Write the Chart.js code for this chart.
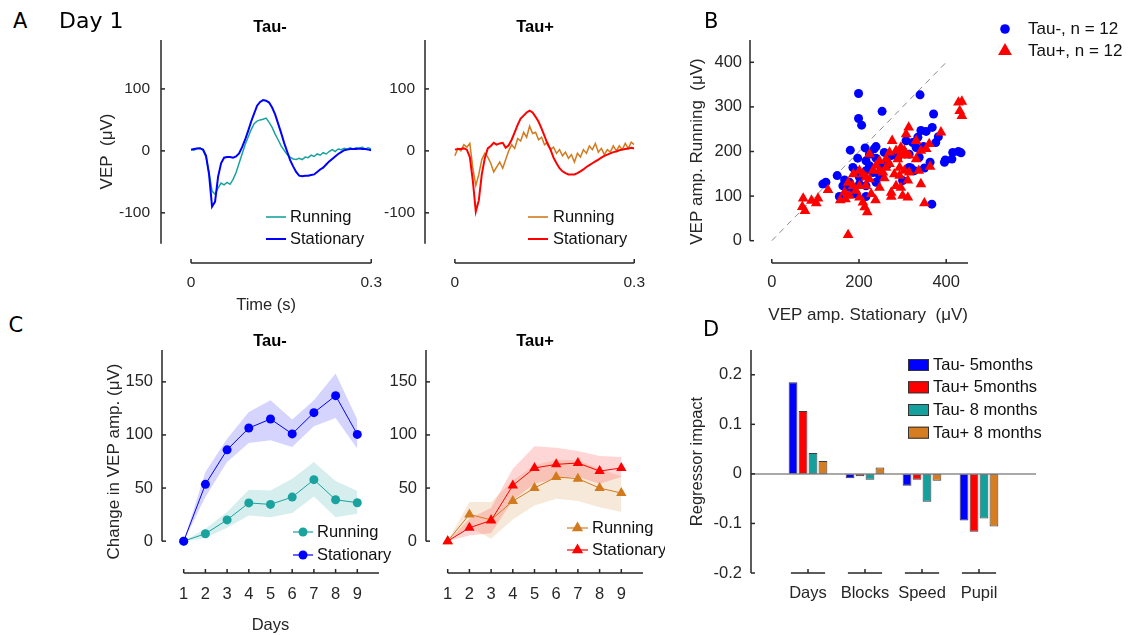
<!DOCTYPE html>
<html>
<head>
<meta charset="utf-8">
<script src="https://cdn.jsdelivr.net/npm/chart.js@4.4.1/dist/chart.umd.min.js"></script>
<style>
  body { margin: 0; background: #fff; }
  #fig { position: relative; width: 1128px; height: 635px; overflow: hidden; }
  #fig canvas { position: absolute; }
  .lbl { position: absolute; font: 21px/21px 'DejaVu Sans', sans-serif; color: #000; white-space: nowrap; }
</style>
</head>
<body>
<div id="fig">
  <canvas id="a1"></canvas>
  <canvas id="a2"></canvas>
  <canvas id="b"></canvas>
  <canvas id="c1"></canvas>
  <canvas id="c2"></canvas>
  <canvas id="d"></canvas>
  <div class="lbl" style="left:13px;top:10.6px">A</div>
  <div class="lbl" style="left:59px;top:10px;font-size:22px">Day 1</div>
  <div class="lbl" style="left:704px;top:10.6px">B</div>
  <div class="lbl" style="left:8.5px;top:314.5px">C</div>
  <div class="lbl" style="left:703px;top:318.9px">D</div>
</div>
<script>
const FONT = "'Liberation Sans', Arial, sans-serif";
Chart.defaults.font.family = FONT;

// ---- A: day-1 VEP traces (uV), sampled every 5 ms ----
const vepTimeMs = [0,5,10,15,20,25,30,35,40,45,50,55,60,65,70,75,80,85,90,95,100,105,110,115,120,125,130,135,140,145,150,
  155,160,165,170,175,180,185,190,195,200,205,210,215,220,225,230,235,240,245,250,255,260,265,270,275,280,285,290,295,300];
const tauNegRunningVep = [2,1,4,5,1,-10,-35,-65,-70,-60,-52,-55,-51,-54,-46,-35,-20,-5,10,22,34,44,48,50,51,53,46,38,27,18,8,
  1,-6,-10,-13,-14,-12,-14,-10,-11,-7,-9,-5,-7,-3,-5,-1,2,-1,3,2,4,3,5,3,5,4,6,3,5,3];
const tauNegStationaryVep = [2,3,4,4,2,-8,-38,-90,-82,-42,-20,-11,-10,-10,-11,-9,-4,6,18,32,47,60,73,79,82,81,78,70,59,44,29,
  13,-1,-15,-25,-34,-40,-41,-40,-40,-39,-38,-34,-30,-27,-22,-17,-13,-9,-5,-2,1,2,3,3,3,4,3,3,2,1];
const tauPosRunningVep = [-8,4,0,10,6,12,-28,-56,-38,-14,-4,-10,-20,-34,-26,-18,-28,-14,0,10,4,20,16,30,22,40,28,30,18,22,10,
  14,2,6,-4,2,-8,-2,-12,-6,-18,-4,-10,2,-4,8,2,12,-2,4,-6,2,-2,8,0,8,2,12,4,14,10];
const tauPosStationaryVep = [2,3,3,4,2,-10,-48,-98,-80,-38,-12,4,8,13,10,12,13,5,9,18,30,42,52,57,62,65,62,55,47,36,24,
  11,2,-11,-20,-28,-33,-36,-38,-38,-38,-36,-33,-30,-26,-23,-20,-17,-14,-11,-8,-6,-4,-2,-1,1,2,3,4,5,4];
const conditions = ['Running', 'Stationary'];

// ---- B: VEP amplitude per session (uV) ----
const tauNegStatAmp = [199,340,253,199,206,371,368,342,354,382,335,308,323,239,235,214,180,348,415,428,434,398,396,413,363,
  350,319,327,197,216,186,216,239,258,274,224,192,150,124,117,167,163,178,201,216,239,186,193,216,155,367,289,300,338,315,
  331,232,247,300,315,201,175,209,251,266,376,224];
const tauNegRunAmp = [330,327,290,274,259,284,254,247,245,233,232,224,220,211,206,208,203,211,198,200,197,181,176,183,176,
  163,163,157,185,179,164,157,185,198,191,168,157,146,131,127,136,123,131,127,123,131,116,105,99,99,82,187,202,187,194,
  209,153,146,135,164,142,120,149,164,172,220,194];
const tauPosStatAmp = [428,436,431,436,388,314,308,361,342,276,296,304,285,270,224,262,315,331,289,296,308,270,293,304,239,
  232,247,262,281,293,315,337,363,312,342,187,209,216,224,258,175,201,216,247,285,296,167,193,228,274,300,312,157,169,201,
  209,238,274,213,219,129,72,70,76,91,102,106,350,175,255,247,331,354,201,186,178];
const tauPosRunAmp = [310,312,291,280,243,254,239,217,202,224,209,202,202,198,194,183,191,183,183,191,194,172,164,157,168,
  157,157,164,149,146,153,157,166,135,127,149,149,142,138,140,130,123,123,119,123,119,109,112,105,108,101,97,91,93,97,
  86,91,99,75,64,114,95,76,67,90,84,95,84,13,153,179,224,206,157,123,101];
const diagonalRef = [0, 400];
const groupsB = ['Tau-, n = 12', 'Tau+, n = 12'];

// ---- C: change in VEP amplitude over days (uV): mean and shaded error ----
const days = [1, 2, 3, 4, 5, 6, 7, 8, 9];
const tauNegStatMean = [0, 53.5, 86, 106.5, 115, 101, 121, 137, 100.5];
const tauNegStatHi   = [0, 65, 96.5, 121.7, 132.7, 114.5, 132.7, 157.9, 114.5];
const tauNegStatLo   = [0, 41.5, 74.5, 92.5, 95, 88.7, 108.2, 116, 87.1];
const tauNegRunMean  = [0, 7, 20, 36, 34.6, 41.5, 57.9, 39, 36.2];
const tauNegRunHi    = [0, 11.6, 27.4, 48.4, 47.8, 58.8, 74.5, 56.6, 47.2];
const tauNegRunLo    = [0, 3, 12.6, 24.2, 22.6, 26.4, 42.1, 22.6, 25.8];
const tauPosStatMean = [0, 12.6, 19.5, 52.5, 68.9, 72.3, 73.6, 66, 68.9];
const tauPosStatHi   = [0, 21, 31.4, 68.2, 89.3, 88, 84.9, 80.2, 79.2];
const tauPosStatLo   = [0, 5.3, 7.5, 38.4, 54, 58.8, 60.4, 54, 60.4];
const tauPosRunMean  = [0, 25.2, 20, 37.7, 50, 60.4, 58.8, 50, 45.3];
const tauPosRunHi    = [0, 36.8, 36.8, 57.2, 71.4, 76.7, 76.1, 68.2, 61];
const tauPosRunLo    = [0, 13.2, 2.2, 20.4, 33.6, 40, 37.7, 32, 27.4];

// ---- D: regressor impact ----
const regressors = ['Days', 'Blocks', 'Speed', 'Pupil'];
const groupsD = ['Tau- 5months', 'Tau+ 5months', 'Tau- 8 months', 'Tau+ 8 months'];
const impactTauNeg5 = [0.185, -0.009, -0.024, -0.094];
const impactTauPos5 = [0.127, -0.005, -0.012, -0.117];
const impactTauNeg8 = [0.042, -0.012, -0.056, -0.090];
const impactTauPos8 = [0.026, 0.013, -0.014, -0.106];

// colours
const TEAL = '#1aa39e', BLUE = '#0000ff', ORANGE = '#d27a1e', RED = '#ff0000';
const tauNegColors = [TEAL, BLUE], tauPosColors = [ORANGE, RED];
const groupColorsD = [BLUE, RED, '#14a09c', '#d67d22'];

// page layout: box = canvas [left, top, w, h], area = plot box [l, t, r, b] (page px)
const panels = {
  a1: { box: [90, 15, 302, 305], area: [161, 40, 379, 263], xLine: [0, 0.3], yLine: [-150, 179],
        title: { text: 'Tau-', x: 270, y: 27 },
        legend: { kind: 'line', x: 266, len: 20, textX: 290, rows: [217, 239],
                  items: conditions.map((c, i) => ({ label: c, color: tauNegColors[i], w: i ? 2 : 1.6 })) } },
  a2: { box: [375, 15, 280, 305], area: [425, 40, 643, 263], xLine: [0, 0.3], yLine: [-150, 179],
        title: { text: 'Tau+', x: 535, y: 27 },
        legend: { kind: 'line', x: 528, len: 20, textX: 553, rows: [217, 239],
                  items: conditions.map((c, i) => ({ label: c, color: tauPosColors[i], w: i ? 2 : 1.6 })) } },
  b:  { box: [680, 10, 448, 320], area: [750, 40, 968, 263], xLine: [0, 450], yLine: [0, 450],
        legend: { kind: 'marker', x: 1005, textX: 1028, rows: [29, 51], size: 17,
                  items: [{ label: groupsB[0], color: BLUE, style: 'circle', r: 4.8 },
                          { label: groupsB[1], color: RED, style: 'triangle', r: 8 }] } },
  c1: { box: [90, 325, 305, 310], area: [162, 350, 379, 573], xLine: [1, 10], yLine: [0, 180],
        title: { text: 'Tau-', x: 270, y: 341 },
        legend: { kind: 'markerLine', x: 293, len: 20, textX: 317, rows: [532, 555],
                  items: conditions.map((c, i) => ({ label: c, color: tauNegColors[i], style: 'circle', r: 4.5 })) } },
  c2: { box: [375, 325, 290, 310], area: [426, 350, 643, 573], xLine: [1, 10], yLine: [0, 180],
        title: { text: 'Tau+', x: 535, y: 341 },
        legend: { kind: 'markerLine', x: 567, len: 21, textX: 592, rows: [528, 550],
                  items: conditions.map((c, i) => ({ label: c, color: tauPosColors[i], style: 'triangle', r: 6.5 })) } },
  d:  { box: [680, 325, 448, 310], area: [751, 350, 1036, 573], yLine: [-0.2, 0.25], xSeg: 0.3, zero: [0, 5],
        legend: { kind: 'box', x: 908, bw: 21, bh: 12, textX: 933, rows: [365, 387.3, 410, 432.7],
                  items: groupsD.map((g, i) => ({ label: g, color: groupColorsD[i] })) } }
};

function marker(ctx, style, x, y, r) {
  ctx.beginPath();
  if (style === 'triangle') {
    ctx.moveTo(x, y - r);
    ctx.lineTo(x + r * 0.866, y + r * 0.5);
    ctx.lineTo(x - r * 0.866, y + r * 0.5);
    ctx.closePath();
  } else {
    ctx.arc(x, y, r, 0, Math.PI * 2);
  }
  ctx.fill();
}

// MATLAB-like detached axes, titles and legends
const matlabAxes = {
  id: 'matlabAxes',
  afterDraw(chart) {
    const p = panels[chart.canvas.id];
    const { ctx, chartArea: a } = chart, sx = chart.scales.x, sy = chart.scales.y;
    const ox = p.box[0], oy = p.box[1];
    const seg = (x1, y1, x2, y2) => { ctx.beginPath(); ctx.moveTo(x1, y1); ctx.lineTo(x2, y2); ctx.stroke(); };
    ctx.save();
    if (p.zero) {
      ctx.strokeStyle = '#8c8c8c'; ctx.lineWidth = 1.5;
      const y0 = sy.getPixelForValue(0);
      seg(sx.getPixelForValue(p.zero[0]), y0, sx.getPixelForValue(p.zero[1]), y0);
    }
    ctx.strokeStyle = '#262626'; ctx.lineWidth = 1.5;
    seg(a.left, sy.getPixelForValue(p.yLine[0]), a.left, sy.getPixelForValue(p.yLine[1]));
    sy.ticks.forEach(t => { const y = sy.getPixelForValue(t.value); seg(a.left, y, a.left + 4, y); });
    if (p.xLine) seg(sx.getPixelForValue(p.xLine[0]), a.bottom, sx.getPixelForValue(p.xLine[1]), a.bottom);
    sx.ticks.forEach(t => {
      const x = sx.getPixelForValue(t.value);
      if (p.xSeg) seg(sx.getPixelForValue(t.value - p.xSeg), a.bottom, sx.getPixelForValue(t.value + p.xSeg), a.bottom);
      seg(x, a.bottom, x, a.bottom - 4);
    });

    if (p.title) {
      ctx.fillStyle = '#000'; ctx.font = `bold 16.5px ${FONT}`;
      ctx.textAlign = 'center'; ctx.textBaseline = 'middle';
      ctx.fillText(p.title.text, p.title.x - ox, p.title.y - oy);
    }

    const L = p.legend;
    if (L) {
      L.items.forEach((it, i) => {
        const y = L.rows[i] - oy, x = L.x - ox;
        ctx.strokeStyle = it.color; ctx.fillStyle = it.color;
        if (L.kind === 'line' || L.kind === 'markerLine') {
          ctx.lineWidth = it.w || 1.2;
          seg(x, y, x + L.len, y);
        }
        if (L.kind === 'markerLine') marker(ctx, it.style, x + L.len / 2, y, it.r);
        if (L.kind === 'marker') marker(ctx, it.style, x, y, it.r);
        if (L.kind === 'box') {
          ctx.fillRect(x, y - L.bh / 2, L.bw, L.bh);
          ctx.strokeStyle = '#333'; ctx.lineWidth = 1;
          ctx.strokeRect(x + 0.5, y - L.bh / 2 + 0.5, L.bw - 1, L.bh - 1);
        }
        ctx.fillStyle = '#111'; ctx.font = `${L.size || 16.5}px ${FONT}`;
        ctx.textAlign = 'left'; ctx.textBaseline = 'middle';
        ctx.fillText(it.label, L.textX - ox, y + 0.5);
      });
    }
    ctx.restore();
  }
};

function axis(p, side, o) {
  const horiz = side === 'x';
  return {
    type: 'linear', position: horiz ? 'bottom' : 'left',
    min: o.min, max: o.max, offset: false,
    grid: { display: false, drawTicks: false }, border: { display: false },
    afterFit: s => { if (horiz) s.height = p.xHeight; else s.width = p.yWidth; },
    afterBuildTicks: s => { s.ticks = o.ticks.map(v => ({ value: v })); },
    ticks: { padding: o.pad, font: { size: o.fs || 15.5 }, color: '#262626', autoSkip: false, maxRotation: 0,
             callback: o.fmt || (v => String(v)) },
    title: o.title ? { display: true, text: o.title, font: { size: o.tfs || 16 }, color: '#262626', align: o.align || 'center',
                       padding: horiz ? { top: 0, bottom: o.tpad } : { top: o.tpad, bottom: 0 } }
                   : { display: false }
  };
}

function makeChart(id, type, data, sc) {
  const p = panels[id];
  const [bl, bt, bw, bh] = p.box, [al, at, ar, ab] = p.area;
  const cv = document.getElementById(id);
  cv.width = bw; cv.height = bh;
  cv.style.left = bl + 'px'; cv.style.top = bt + 'px';
  p.yWidth = al - bl; p.xHeight = bt + bh - ab;
  return new Chart(cv, {
    type, data,
    options: {
      responsive: false, animation: false, events: [], devicePixelRatio: 1,
      layout: { autoPadding: false, padding: { left: 0, top: at - bt, right: bl + bw - ar, bottom: 0 } },
      plugins: { legend: { display: false }, tooltip: { enabled: false } },
      scales: { x: axis(p, 'x', sc.x), y: axis(p, 'y', sc.y) }
    },
    plugins: [matlabAxes]
  });
}

const trace = (label, vals, color, w, order) => ({
  label, order, borderColor: color, borderWidth: w, pointRadius: 0, tension: 0, fill: false,
  data: vepTimeMs.map((t, i) => ({ x: t / 1000, y: vals[i] }))
});
const band = (vals, bg) => ({
  order: 5, data: days.map((d, i) => ({ x: d, y: vals[i] })), borderWidth: 0, pointRadius: 0,
  tension: 0, fill: bg ? '-1' : false, backgroundColor: bg || 'transparent'
});
const mean = (label, vals, color, style, r, order) => ({
  label, order, data: days.map((d, i) => ({ x: d, y: vals[i] })), borderColor: color, borderWidth: 1,
  pointStyle: style, pointRadius: r, pointBackgroundColor: color, pointBorderColor: color, pointBorderWidth: 0,
  tension: 0, fill: false
});

// A
makeChart('a1', 'line', { datasets: [
  trace(conditions[0], tauNegRunningVep, TEAL, 1.5, 1),
  trace(conditions[1], tauNegStationaryVep, BLUE, 2, 0)
] }, {
  x: { min: -0.05, max: 0.3, ticks: [0, 0.3], pad: 10, title: 'Time (s)', tpad: 5, tfs: 16.5 },
  y: { min: -181, max: 179, ticks: [-100, 0, 100], pad: 11, title: 'VEP  (μV)', tpad: 7, tfs: 17 }
});
makeChart('a2', 'line', { datasets: [
  trace(conditions[0], tauPosRunningVep, ORANGE, 1.5, 1),
  trace(conditions[1], tauPosStationaryVep, RED, 2, 0)
] }, {
  x: { min: -0.05, max: 0.3, ticks: [0, 0.3], pad: 10 },
  y: { min: -181, max: 179, ticks: [-100, 0, 100], pad: 10 }
});

// B
makeChart('b', 'scatter', { datasets: [
  { data: diagonalRef.map(v => ({ x: v, y: v })), showLine: true, borderColor: '#8a8a8a', borderWidth: 1,
    borderDash: [6, 5], pointRadius: 0, order: 2 },
  { label: groupsB[0], order: 1, data: tauNegStatAmp.map((v, i) => ({ x: v, y: tauNegRunAmp[i] })),
    pointStyle: 'circle', pointRadius: 4.5, backgroundColor: BLUE, borderWidth: 0 },
  { label: groupsB[1], order: 0, data: tauPosStatAmp.map((v, i) => ({ x: v, y: tauPosRunAmp[i] })),
    pointStyle: 'triangle', pointRadius: 6.2, backgroundColor: RED, borderWidth: 0 }
] }, {
  x: { min: -50, max: 450, ticks: [0, 200, 400], pad: 10, fs: 16.5,
       title: 'VEP amp. Stationary  (μV)', tpad: 4, tfs: 17, align: 'end' },
  y: { min: -50, max: 450, ticks: [0, 100, 200, 300, 400], pad: 8, fs: 16.5,
       title: 'VEP amp. Running  (μV)', tpad: 7, tfs: 17 }
});

// C
makeChart('c1', 'line', { datasets: [
  band(tauNegRunHi), band(tauNegRunLo, 'rgba(26,163,158,0.18)'),
  Object.assign(band(tauNegStatHi), { order: 4 }), Object.assign(band(tauNegStatLo, 'rgba(0,0,255,0.17)'), { order: 4 }),
  mean(conditions[0], tauNegRunMean, TEAL, 'circle', 4.5, 1),
  mean(conditions[1], tauNegStatMean, BLUE, 'circle', 4.5, 0)
] }, {
  x: { min: 0, max: 10, ticks: days, pad: 12, fs: 16.5, title: 'Days', tpad: 0, tfs: 16.5 },
  y: { min: -30, max: 180, ticks: [0, 50, 100, 150], pad: 9, fs: 16.5,
       title: 'Change in VEP amp. (μV)', tpad: 14, tfs: 17 }
});
makeChart('c2', 'line', { datasets: [
  band(tauPosRunHi), band(tauPosRunLo, 'rgba(210,122,30,0.17)'),
  Object.assign(band(tauPosStatHi), { order: 4 }), Object.assign(band(tauPosStatLo, 'rgba(255,0,0,0.16)'), { order: 4 }),
  mean(conditions[0], tauPosRunMean, ORANGE, 'triangle', 6, 1),
  mean(conditions[1], tauPosStatMean, RED, 'triangle', 6, 0)
] }, {
  x: { min: 0, max: 10, ticks: days, pad: 12, fs: 16.5 },
  y: { min: -30, max: 180, ticks: [0, 50, 100, 150], pad: 9, fs: 16.5 }
});

// D
const impacts = [impactTauNeg5, impactTauPos5, impactTauNeg8, impactTauPos8];
makeChart('d', 'bar', { datasets: impacts.map((vals, i) => ({
  label: groupsD[i], data: regressors.map((r, j) => ({ x: j + 1, y: vals[j] })),
  backgroundColor: groupColorsD[i], borderColor: '#3c3c3c', borderWidth: 1, borderSkipped: false,
  categoryPercentage: 0.7, barPercentage: 0.88
})) }, {
  x: { min: 0, max: 5, ticks: [1, 2, 3, 4], pad: 11, fs: 16.5, fmt: v => regressors[v - 1] },
  y: { min: -0.2, max: 0.25, ticks: [-0.2, -0.1, 0, 0.1, 0.2], pad: 9, fs: 16.5,
       title: 'Regressor impact', tpad: 8, tfs: 16.5 }
});
</script>
</body>
</html>
